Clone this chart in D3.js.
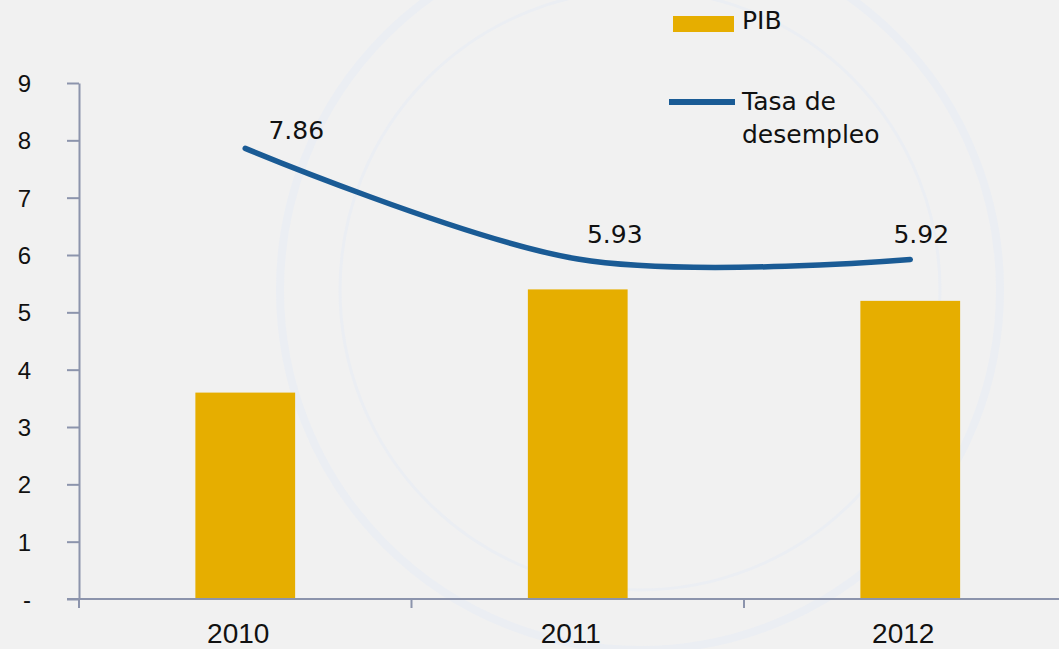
<!DOCTYPE html>
<html>
<head>
<meta charset="utf-8">
<script src="https://cdn.jsdelivr.net/npm/d3@7"></script>
<style>
  html, body { margin: 0; padding: 0; background: #f1f1f1; }
  svg { display: block; }
</style>
</head>
<body>
<svg id="chart"></svg>
<script>
const years = ["2010", "2011", "2012"];
const pib = [3.6, 5.4, 5.2];
const desempleo = [7.86, 5.93, 5.92];
const yTicks = [0, 1, 2, 3, 4, 5, 6, 7, 8, 9];
const labelOffsets = [[51, -9], [37, -16], [11, -17]];

const width = 1059;
const height = 649;

const svg = d3.select("#chart")
    .attr("width", width)
    .attr("height", height);

svg.append("rect")
    .attr("width", width)
    .attr("height", height)
    .attr("fill", "#f1f1f1");

// faint watermark
const wm = svg.append("g").attr("fill", "none").attr("stroke", "#ebeef3");
wm.append("circle").attr("cx", 640).attr("cy", 290).attr("r", 360).attr("stroke-width", 8);
wm.append("circle").attr("cx", 640).attr("cy", 290).attr("r", 300).attr("stroke-width", 3);

const x = d3.scaleBand()
    .domain(years)
    .range([79, 79 + 997.5])
    .paddingInner(0.7)
    .paddingOuter(0.35);

const y = d3.scaleLinear()
    .domain([0, 9])
    .range([599, 83]);

const axisColor = "#8c94ac";

// bars
svg.append("g")
    .selectAll("rect")
    .data(pib)
    .enter()
    .append("rect")
    .attr("x", (d, i) => x(years[i]))
    .attr("y", d => y(d))
    .attr("width", x.bandwidth())
    .attr("height", d => y(0) - y(d))
    .attr("fill", "#e6ae00");

// y axis
const yAxis = svg.append("g")
    .attr("transform", "translate(79,0)")
    .call(d3.axisLeft(y).tickValues(yTicks).tickSize(12).tickSizeOuter(0)
        .tickFormat(d => d === 0 ? "-" : d));
yAxis.attr("font-size", null).attr("font-family", null);
yAxis.select(".domain").attr("stroke", axisColor).attr("stroke-width", 2);
yAxis.selectAll(".tick line").attr("stroke", axisColor).attr("stroke-width", 2);
yAxis.selectAll(".tick text")
    .attr("x", -48)
    .attr("dy", "0.36em")
    .attr("text-anchor", "end")
    .attr("fill", "#111")
    .style("font-family", "'Liberation Sans', Arial, sans-serif")
    .style("font-size", "24px");

// x axis
const xAxis = svg.append("g")
    .attr("transform", "translate(0,599)");
xAxis.append("line")
    .attr("x1", 67).attr("x2", width)
    .attr("stroke", axisColor).attr("stroke-width", 2);
const step = x.step();
const boundaries = [0, 1, 2].map(i => 79 + i * step);
xAxis.selectAll(".xt")
    .data(boundaries)
    .enter()
    .append("line")
    .attr("x1", d => d).attr("x2", d => d)
    .attr("y1", 0).attr("y2", 9)
    .attr("stroke", axisColor).attr("stroke-width", 2);
xAxis.selectAll("text")
    .data(years)
    .enter()
    .append("text")
    .attr("x", d => x(d) + x.bandwidth() / 2 - 7)
    .attr("y", 44)
    .attr("text-anchor", "middle")
    .attr("fill", "#111")
    .style("font-family", "'Liberation Sans', Arial, sans-serif")
    .style("font-size", "28px")
    .text(d => d);

// line
const line = d3.line()
    .x((d, i) => x(years[i]) + x.bandwidth() / 2)
    .y(d => y(d))
    .curve(d3.curveCatmullRom.alpha(0));

svg.append("path")
    .datum(desempleo)
    .attr("d", line)
    .attr("fill", "none")
    .attr("stroke", "#1a5b95")
    .attr("stroke-width", 5.5)
    .attr("stroke-linecap", "round");

svg.append("g")
    .selectAll("text")
    .data(desempleo)
    .enter()
    .append("text")
    .attr("x", (d, i) => x(years[i]) + x.bandwidth() / 2 + labelOffsets[i][0])
    .attr("y", (d, i) => y(d) + labelOffsets[i][1])
    .attr("text-anchor", "middle")
    .attr("fill", "#111")
    .style("font-family", "'DejaVu Sans', Verdana, sans-serif")
    .style("font-size", "25px")
    .text(d => d.toFixed(2));

// legend
const legend = svg.append("g")
    .style("font-family", "'DejaVu Sans', Verdana, sans-serif")
    .style("font-size", "25px")
    .attr("fill", "#111");
legend.append("rect")
    .attr("x", 673).attr("y", 16).attr("width", 61).attr("height", 16)
    .attr("fill", "#e6ae00");
legend.append("text").attr("x", 742).attr("y", 29).text("PIB");
legend.append("line")
    .attr("x1", 669).attr("x2", 735).attr("y1", 102).attr("y2", 102)
    .attr("stroke", "#1a5b95").attr("stroke-width", 6);
legend.append("text").attr("x", 742).attr("y", 110).text("Tasa de");
legend.append("text").attr("x", 742).attr("y", 143).text("desempleo");
</script>
</body>
</html>
